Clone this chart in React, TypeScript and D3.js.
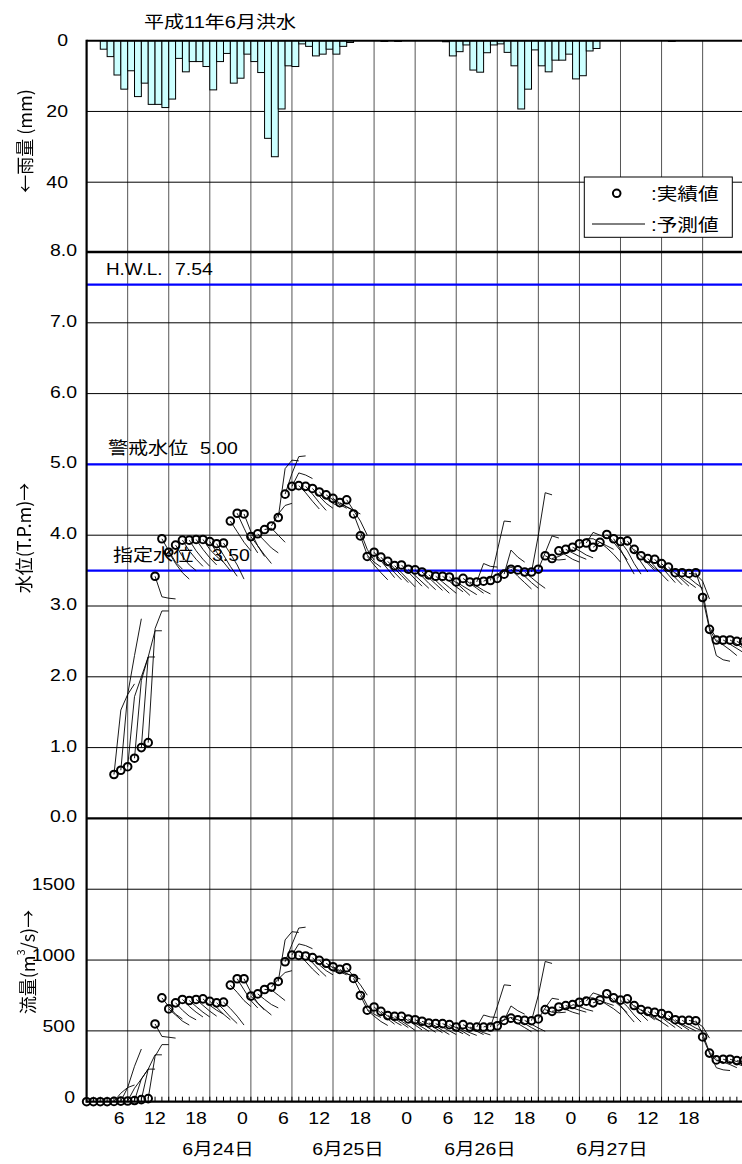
import React from "react";
import * as d3 from "d3";

// ---- data -------------------------------------------------------------
const TITLE = "平成11年6月洪水";

// hourly rainfall (mm); hour 0 = 6/24 0:00
const rainHour = [2, 3, 4, 5, 6, 7, 8, 9, 10, 11, 12, 13, 14, 15, 16, 17, 18, 19, 20, 21, 22, 23, 24, 25, 26, 27, 28, 29, 30, 31, 32, 33, 34, 35, 36, 37, 38, 43, 45, 52, 53, 54, 55, 56, 57, 58, 59, 60, 61, 62, 63, 64, 65, 66, 67, 68, 69, 70, 71, 72, 73, 74, 85];
const rainMm = [2.4, 4.5, 9.7, 13.7, 8.5, 15.8, 12.0, 18.0, 18.0, 18.9, 16.5, 5.0, 8.8, 5.9, 5.9, 7.3, 13.9, 5.9, 3.6, 12.0, 10.6, 3.8, 5.9, 9.0, 27.6, 32.8, 19.3, 7.1, 7.3, 0.9, 1.6, 4.3, 3.8, 2.4, 3.8, 1.6, 0.5, 0.2, 0.2, 0.3, 4.3, 3.1, 1.2, 8.3, 8.9, 3.4, 1.2, 0.9, 3.3, 7.1, 19.3, 13.7, 2.6, 7.1, 8.8, 5.5, 5.5, 3.8, 10.8, 9.9, 2.9, 2.2, 0.2];

// observed water level (T.P.m), hourly from hour 4
const levelStartHour = 4;
const levelObs = [0.62, 0.68, 0.73, 0.85, 1.0, 1.07, 3.42, 3.95, 3.76, 3.86, 3.93, 3.93, 3.94, 3.94, 3.91, 3.88, 3.89, 4.2, 4.31, 4.3, 3.98, 4.02, 4.08, 4.13, 4.25, 4.58, 4.69, 4.7, 4.69, 4.66, 4.61, 4.57, 4.52, 4.46, 4.5, 4.3, 3.99, 3.7, 3.76, 3.69, 3.63, 3.57, 3.58, 3.52, 3.51, 3.48, 3.44, 3.42, 3.42, 3.41, 3.34, 3.39, 3.34, 3.34, 3.35, 3.36, 3.39, 3.45, 3.52, 3.51, 3.48, 3.48, 3.52, 3.71, 3.67, 3.78, 3.8, 3.83, 3.88, 3.89, 3.83, 3.9, 4.01, 3.95, 3.91, 3.92, 3.8, 3.71, 3.67, 3.66, 3.6, 3.55, 3.47, 3.47, 3.46, 3.47, 3.12, 2.67, 2.52, 2.52, 2.52, 2.5, 2.5];

// observed discharge (m3/s), hourly from hour 0
const flowStartHour = 0;
const flowObs = [0, 0, 0, 0, 2, 4, 5, 8, 15, 22, 549, 733, 655, 698, 722, 714, 722, 726, 709, 698, 703, 823, 868, 868, 745, 761, 792, 809, 849, 988, 1036, 1033, 1029, 1017, 998, 977, 953, 934, 946, 870, 750, 646, 669, 638, 608, 603, 603, 584, 579, 568, 556, 551, 551, 544, 527, 544, 527, 527, 527, 527, 536, 574, 590, 579, 574, 572, 584, 650, 638, 669, 679, 686, 702, 710, 698, 717, 762, 733, 717, 726, 679, 650, 638, 631, 622, 608, 579, 574, 574, 572, 457, 343, 295, 300, 300, 290, 290];

// forecasts issued each hour (from hour 4): values 1, 2 and 3 hours ahead
const forecastStartHour = 4;
const levelForecast = [
  [1.53, 1.75, 1.9], [1.75, 2.3, 2.82], [1.72, 2.0, 2.28], [1.95, 2.28, 2.28], [2.28, 2.65, 2.65],
  [2.68, 2.93, 2.93], [3.13, 3.11, 3.1], [3.78, 3.62, 3.52], [3.6, 3.47, 3.38], [3.7, 3.58, 3.5],
  [3.78, 3.66, 3.56], [3.78, 3.66, 3.56], [3.8, 3.68, 3.58], [3.8, 3.7, 3.62], [3.76, 3.62, 3.5],
  [3.72, 3.56, 3.42], [3.74, 3.58, 3.38], [4.05, 3.9, 3.78], [4.1, 3.9, 3.75], [4.05, 3.85, 3.7],
  [3.85, 3.72, 3.6], [3.92, 3.82, 3.75], [4.1, 4.0, 3.9], [4.3, 4.42, 4.45], [4.94, 5.06, 5.05],
  [4.87, 5.11, 5.12], [4.88, 4.85, 4.8], [4.6, 4.48, 4.37], [4.58, 4.46, 4.35], [4.55, 4.45, 4.38],
  [4.52, 4.45, 4.4], [4.5, 4.43, 4.38], [4.45, 4.4, 4.35], [4.4, 4.35, 4.3], [4.35, 4.2, 4.0],
  [4.05, 3.8, 3.65], [3.72, 3.62, 3.55], [3.58, 3.47, 3.37], [3.64, 3.52, 3.4], [3.58, 3.47, 3.37],
  [3.53, 3.43, 3.33], [3.47, 3.37, 3.27], [3.48, 3.38, 3.28], [3.43, 3.34, 3.25], [3.42, 3.32, 3.23],
  [3.4, 3.31, 3.22], [3.36, 3.27, 3.18], [3.34, 3.26, 3.18], [3.35, 3.27, 3.2], [3.33, 3.24, 3.15],
  [3.28, 3.22, 3.16], [3.32, 3.25, 3.18], [3.28, 3.22, 3.17], [3.6, 3.56, 3.55], [3.4, 3.45, 3.5],
  [3.78, 4.2, 4.19], [3.5, 3.55, 3.5], [3.79, 3.69, 3.62], [3.42, 3.33, 3.24], [3.42, 3.33, 3.25],
  [3.4, 3.32, 3.25], [4.0, 4.6, 4.57], [3.75, 3.99, 3.96], [3.66, 3.65, 3.66], [3.7, 3.75, 3.8],
  [3.72, 3.66, 3.62], [3.75, 3.7, 3.66], [3.78, 3.72, 3.68], [3.95, 3.95, 3.9], [4.04, 4.0, 3.96],
  [3.9, 3.85, 3.8], [3.82, 3.73, 3.62], [3.9, 3.78, 3.65], [3.8, 3.62, 3.45], [3.78, 3.6, 3.45],
  [3.78, 3.62, 3.48], [3.7, 3.6, 3.5], [3.62, 3.53, 3.46], [3.56, 3.45, 3.35], [3.55, 3.44, 3.33],
  [3.5, 3.4, 3.3], [3.46, 3.37, 3.28], [3.4, 3.33, 3.26], [3.4, 3.32, 3.25], [3.45, 3.35, 3.1],
  [3.2, 2.7, 2.55], [2.67, 2.5, 2.45], [2.3, 2.24, 2.22], [2.45, 2.38, 2.3], [2.46, 2.4, 2.34],
  [2.46, 2.4, 2.35], [2.45, 2.4, 2.35],
];
const flowForecast = [
  [60, 100, 118], [100, 250, 372], [95, 160, 230], [160, 230, 230], [230, 331, 331],
  [320, 403, 403], [461, 455, 449], [672, 618, 584], [612, 569, 541], [646, 604, 578],
  [672, 632, 598], [672, 632, 598], [680, 639, 604], [680, 646, 618], [666, 618, 578],
  [652, 598, 552], [658, 604, 541], [772, 714, 672], [790, 714, 662], [772, 696, 646],
  [696, 652, 612], [722, 686, 662], [790, 752, 714], [866, 912, 925], [1142, 1200, 1195],
  [1110, 1226, 1232], [1114, 1102, 1080], [990, 937, 892], [982, 929, 884], [966, 925, 896],
  [953, 925, 904], [946, 916, 896], [925, 904, 884], [904, 884, 866], [884, 825, 752],
  [772, 680, 628], [652, 618, 595], [604, 566, 538], [625, 584, 547], [604, 566, 538],
  [588, 555, 523], [569, 538, 503], [572, 541, 507], [555, 527, 497], [552, 520, 490],
  [547, 517, 487], [534, 503, 474], [527, 500, 474], [530, 503, 480], [523, 494, 465],
  [507, 487, 468], [520, 497, 474], [507, 487, 471], [612, 598, 595], [547, 562, 578],
  [672, 825, 820], [578, 595, 578], [676, 642, 618], [552, 523, 494], [552, 523, 497],
  [547, 520, 497], [752, 990, 976], [662, 730, 722], [632, 628, 632], [646, 662, 680],
  [652, 632, 618], [662, 646, 632], [672, 652, 639], [733, 733, 714], [768, 752, 737],
  [714, 696, 680], [686, 656, 618], [714, 672, 628], [680, 618, 562], [672, 612, 562],
  [672, 618, 572], [646, 612, 578], [618, 588, 566], [598, 562, 530], [595, 558, 523],
  [578, 547, 514], [566, 538, 507], [547, 523, 500], [547, 520, 497], [562, 530, 449],
  [480, 350, 305], [343, 290, 280], [240, 225, 220], [280, 262, 240], [283, 268, 250],
  [283, 268, 252], [280, 268, 252],
];

// reference water levels
const refNames = ["H.W.L.", "警戒水位", "指定水位"];
const refLevels = [7.54, 5.0, 3.5];

// axes
const rainTicks = [0, 20, 40];
const levelTicks = [0, 1, 2, 3, 4, 5, 6, 7, 8];
const flowTicks = [0, 500, 1000, 1500];
const gridHours = [6, 12, 18, 24, 30, 36, 42, 48, 54, 60, 66, 72, 78, 84, 90];
const hourLabels = ["6", "12", "18", "0", "6", "12", "18", "0", "6", "12", "18", "0", "6", "12", "18"];
const dateLabels = ["6月24日", "6月25日", "6月26日", "6月27日"];

const legendObs = ":実績値";
const legendFc = ":予測値";

// ---- layout -----------------------------------------------------------
const W = 742;
const H = 1164;
const PLOT_LEFT = 86.6;
const PLOT_RIGHT = 743.7;
const RAIN_TOP = 40.7;
const BOTTOM = 1101.7;
const DATE_X = [218, 348, 480, 612];
const REF_NAME_X = [106, 108, 113];
const REF_NAME_SIZE = [16, 17, 17];
const REF_VALUE_X = [175, 200, 212];
const SX = 1.18; // horizontal glyph stretch
const FONT = "'Liberation Sans', Arial, 'Noto Sans CJK JP', sans-serif";
const CJK_FONT = "'Noto Sans CJK JP', 'Liberation Sans', sans-serif";

const x = d3.scaleLinear().domain([0, 96]).range([PLOT_LEFT, PLOT_RIGHT]);
const yRain = d3.scaleLinear().domain([0, 40]).range([RAIN_TOP, 182.2]);
const yLevel = d3.scaleLinear().domain([0, 8]).range([818.4, 252]);
const yFlow = d3.scaleLinear().domain([0, 2000]).range([BOTTOM, 818.4]);

type TP = {
  x: number;
  y: number;
  size?: number;
  anchor?: "start" | "middle" | "end";
  baseline?: string;
  children: React.ReactNode;
};
function WText({ x: tx, y: ty, size = 16, anchor = "start", baseline, children }: TP) {
  return (
    <text
      transform={`translate(${tx},${ty}) scale(${SX},1)`}
      fontSize={size}
      fontFamily={FONT}
      textAnchor={anchor}
      dominantBaseline={baseline}
      fill="#000"
    >
      {children}
    </text>
  );
}

function Forecasts({
  obs,
  obsStart,
  fc,
  y,
}: {
  obs: number[];
  obsStart: number;
  fc: number[][];
  y: d3.ScaleLinear<number, number>;
}) {
  const line = d3
    .line<[number, number]>()
    .x((d) => x(d[0]))
    .y((d) => y(d[1]));
  return (
    <g fill="none" stroke="#000" strokeWidth={0.9}>
      {fc.map((f, i) => {
        const h = forecastStartHour + i;
        const v0 = obs[h - obsStart];
        const pts: [number, number][] = [[h, v0], ...f.map((v, k) => [h + k + 1, v] as [number, number])];
        return <path key={i} d={line(pts) || ""} />;
      })}
    </g>
  );
}

function Observed({ obs, start, y }: { obs: number[]; start: number; y: d3.ScaleLinear<number, number> }) {
  return (
    <g fill="none" stroke="#000" strokeWidth={2}>
      {obs.map((v, i) => (
        <circle key={i} cx={x(start + i)} cy={y(v)} r={3.8} />
      ))}
    </g>
  );
}

function AxisTitle({ cx, cy, children }: { cx: number; cy: number; children: React.ReactNode }) {
  return (
    <g filter="url(#flatText)">
      <text
        transform={`translate(${cx},${cy}) rotate(-90)`}
        fontSize={18}
        fontFamily={CJK_FONT}
        textAnchor="middle"
        dominantBaseline="central"
        fill="#000"
      >
        {children}
      </text>
    </g>
  );
}

export default function App() {
  const right = W;
  return (
    <svg
      width={W}
      height={H}
      viewBox={`0 0 ${W} ${H}`}
      style={{ position: "absolute", left: 0, top: 0, background: "#fff" }}
    >
      <defs>
        {/* renders rotated labels through an offscreen pass (grayscale antialiasing) */}
        <filter id="flatText" x="-10%" y="-10%" width="120%" height="120%">
          <feOffset dx={0} dy={0} />
        </filter>
      </defs>
      <rect x={0} y={0} width={W} height={H} fill="#fff" />

      {/* title */}
      <WText x={220} y={28} size={17} anchor="middle">
        {TITLE}
      </WText>

      {/* vertical grid */}
      <g stroke="#555" strokeWidth={1}>
        {gridHours.map((h) => (
          <line key={h} x1={x(h)} x2={x(h)} y1={RAIN_TOP} y2={BOTTOM} />
        ))}
      </g>

      {/* horizontal grid */}
      <g stroke="#000" strokeWidth={1}>
        {rainTicks
          .filter((t) => t > 0)
          .map((t) => (
            <line key={"r" + t} x1={PLOT_LEFT} x2={right} y1={yRain(t)} y2={yRain(t)} />
          ))}
        {levelTicks
          .filter((t) => t > 0 && t < 8)
          .map((t) => (
            <line key={"l" + t} x1={PLOT_LEFT} x2={right} y1={yLevel(t)} y2={yLevel(t)} />
          ))}
        {flowTicks
          .filter((t) => t > 0)
          .map((t) => (
            <line key={"f" + t} x1={PLOT_LEFT} x2={right} y1={yFlow(t)} y2={yFlow(t)} />
          ))}
      </g>

      {/* reference levels */}
      <g stroke="#0000ff" strokeWidth={2.2}>
        {refLevels.map((v) => (
          <line key={v} x1={PLOT_LEFT} x2={right} y1={yLevel(v)} y2={yLevel(v)} />
        ))}
      </g>
      {refLevels.map((v, i) => (
        <g key={"rl" + i}>
          <WText x={REF_NAME_X[i]} y={yLevel(v) - 10} size={REF_NAME_SIZE[i]}>
            {refNames[i]}
          </WText>
          <WText x={REF_VALUE_X[i]} y={yLevel(v) - 10} size={16.5}>
            {v.toFixed(2)}
          </WText>
        </g>
      ))}

      {/* rainfall bars hanging from the top axis */}
      <g fill="#ccffff" stroke="#000" strokeWidth={1}>
        {rainHour.map((h, i) => (
          <rect
            key={h}
            x={x(h)}
            y={yRain(0)}
            width={x(h + 1) - x(h)}
            height={yRain(rainMm[i]) - yRain(0)}
          />
        ))}
      </g>

      {/* forecasts and observations */}
      <Forecasts obs={levelObs} obsStart={levelStartHour} fc={levelForecast} y={yLevel} />
      <Forecasts obs={flowObs} obsStart={flowStartHour} fc={flowForecast} y={yFlow} />
      <Observed obs={levelObs} start={levelStartHour} y={yLevel} />
      <Observed obs={flowObs} start={flowStartHour} y={yFlow} />

      {/* frame */}
      <g stroke="#000" strokeWidth={2}>
        <line x1={PLOT_LEFT} x2={right} y1={yRain(0)} y2={yRain(0)} />
        <line x1={PLOT_LEFT} x2={right} y1={yLevel(8)} y2={yLevel(8)} strokeWidth={2.4} />
        <line x1={PLOT_LEFT} x2={right} y1={yLevel(0)} y2={yLevel(0)} strokeWidth={2.2} />
        <line x1={PLOT_LEFT} x2={right} y1={BOTTOM} y2={BOTTOM} strokeWidth={2.2} />
        <line x1={PLOT_LEFT} x2={PLOT_LEFT} y1={RAIN_TOP - 1} y2={BOTTOM + 1} strokeWidth={2.2} />
      </g>
      {/* hourly ticks on the time axis */}
      <g stroke="#000" strokeWidth={1}>
        {d3.range(1, 96).map((h) => (
          <line key={h} x1={x(h)} x2={x(h)} y1={BOTTOM} y2={BOTTOM - 5} />
        ))}
      </g>

      {/* y tick labels */}
      {rainTicks.map((t) => (
        <WText key={"rt" + t} x={68} y={yRain(t)} size={16.5} anchor="end" baseline="central">
          {String(t)}
        </WText>
      ))}
      {levelTicks.map((t) => (
        <WText key={"lt" + t} x={77} y={yLevel(t) - 1.5} size={16.5} anchor="end" baseline="central">
          {t.toFixed(1)}
        </WText>
      ))}
      {flowTicks.map((t) => (
        <WText key={"ft" + t} x={75} y={yFlow(t) - 4.5} size={16.5} anchor="end" baseline="central">
          {String(t)}
        </WText>
      ))}

      {/* axis titles */}
      <AxisTitle cx={24} cy={141}>←雨量 (mm)</AxisTitle>
      <AxisTitle cx={23} cy={538}>水位(T.P.m)→</AxisTitle>
      <AxisTitle cx={27} cy={962}>
        流量(m<tspan fontSize={11} dy={-7}>3</tspan>
        <tspan dy={7}>/s)→</tspan>
      </AxisTitle>

      {/* x labels */}
      {gridHours.map((h, i) => (
        <WText key={"xl" + h} x={x(h) - 3} y={1123.5} size={16.5} anchor="end">
          {hourLabels[i]}
        </WText>
      ))}
      {dateLabels.map((d, i) => (
        <WText key={d} x={DATE_X[i]} y={1155} size={16.5} anchor="middle">
          {d}
        </WText>
      ))}

      {/* legend */}
      <rect x={584.3} y={177} width={148} height={60.3} fill="#fff" stroke="#000" strokeWidth={1} />
      <circle cx={616.7} cy={193.3} r={3.8} fill="none" stroke="#000" strokeWidth={2} />
      <WText x={651} y={200} size={17.5}>
        {legendObs}
      </WText>
      <line x1={592} x2={645} y1={224} y2={224} stroke="#000" strokeWidth={1} />
      <WText x={651} y={230.5} size={17.5}>
        {legendFc}
      </WText>
    </svg>
  );
}
